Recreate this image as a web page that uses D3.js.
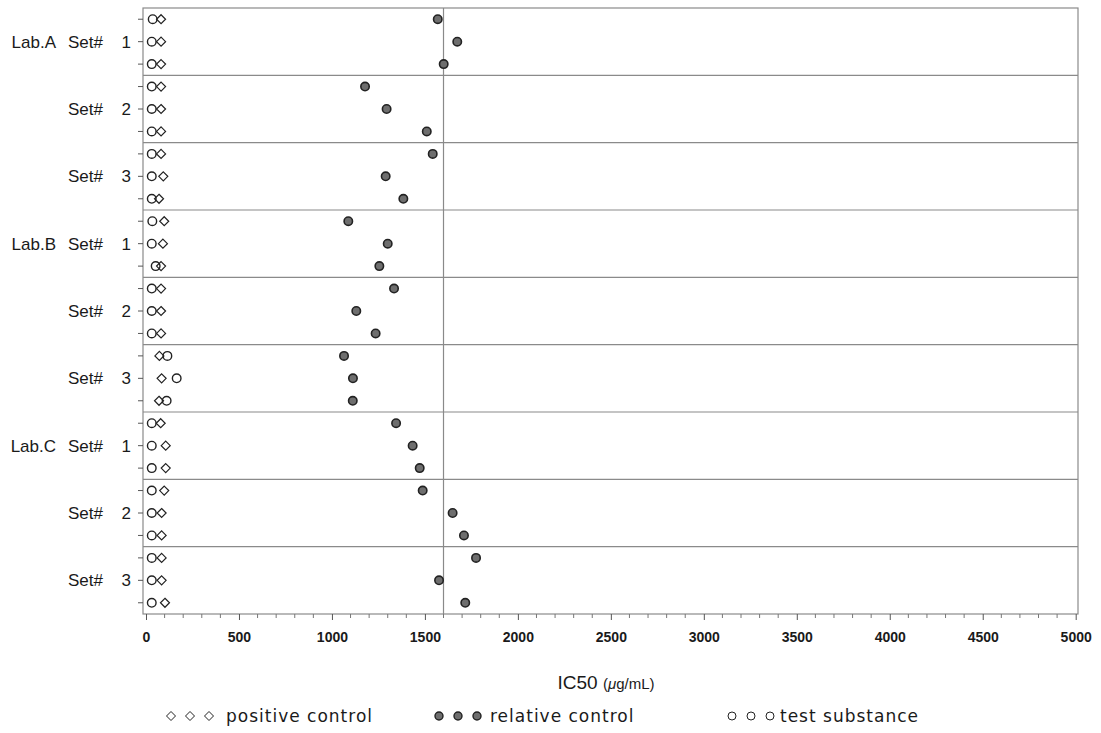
<!DOCTYPE html>
<html>
<head>
<meta charset="utf-8">
<script src="https://cdn.jsdelivr.net/npm/d3@7"></script>
<style>
  body { margin: 0; background: #fff; }
  text { font-family: "Liberation Sans", Arial, sans-serif; fill: #1a1a1a; }
</style>
</head>
<body>
<svg id="chart" width="1101" height="733"></svg>
<script>
// lab / set layout, one panel per set
const labs = ["Lab.A", "Lab.B", "Lab.C"];
const sets = ["1", "2", "3"];

// IC50 values, three replicates per panel, panels in order A1..C3
const positiveControl = [81, 81, 81, 81, 81, 81, 81, 93, 70,
                         98, 91, 81, 81, 81, 81, 72, 84, 70,
                         79, 106, 106, 98, 84, 84, 84, 84, 102];
const relativeControl = [1569, 1674, 1601, 1178, 1294, 1510, 1542, 1289, 1384,
                         1088, 1300, 1255, 1334, 1131, 1235, 1065, 1113, 1112,
                         1345, 1434, 1472, 1488, 1649, 1710, 1775, 1576, 1717];
const testSubstance = [36, 31, 31, 31, 31, 31, 31, 31, 31,
                       34, 31, 52, 31, 31, 31, 115, 165, 111,
                       31, 31, 31, 31, 31, 31, 31, 31, 31];

const refLine = 1600;
const xTicks = [0, 500, 1000, 1500, 2000, 2500, 3000, 3500, 4000, 4500, 5000];

const svg = d3.select("#chart");
const plotLeft = 143, plotRight = 1078, plotTop = 8, plotBottom = 614;

// panels and rows
const panels = [];
labs.forEach(l => sets.forEach(s => panels.push({lab: l, set: s, key: l + s})));

const x = d3.scaleLinear().domain([0, 5000]).range([146, 1075.7]);
const yPanel = d3.scaleBand().domain(panels.map(p => p.key)).range([plotTop, plotBottom]);
const yRow = d3.scaleBand().domain([0, 1, 2]).range([0, yPanel.bandwidth()]);

const rows = [];
panels.forEach((p, i) => {
    [0, 1, 2].forEach(r => {
        const k = i * 3 + r;
        rows.push({
            y: yPanel(p.key) + yRow(r) + yRow.bandwidth() / 2,
            pos: positiveControl[k],
            rel: relativeControl[k],
            test: testSubstance[k]
        });
    });
});

const grid = "#8a8a8a";

// panel separators
svg.append("g").selectAll("line")
    .data(panels.slice(1))
    .join("line")
    .attr("x1", plotLeft).attr("x2", plotRight)
    .attr("y1", d => yPanel(d.key)).attr("y2", d => yPanel(d.key))
    .attr("stroke", grid).attr("stroke-width", 1.2);

// reference line
svg.append("line")
    .attr("x1", x(refLine)).attr("x2", x(refLine))
    .attr("y1", plotTop).attr("y2", plotBottom)
    .attr("stroke", grid).attr("stroke-width", 1.2);

// frame
svg.append("rect")
    .attr("x", plotLeft).attr("y", plotTop)
    .attr("width", plotRight - plotLeft).attr("height", plotBottom - plotTop)
    .attr("fill", "none").attr("stroke", grid).attr("stroke-width", 1.2);

// y ticks
svg.append("g").selectAll("line")
    .data(rows)
    .join("line")
    .attr("x1", plotLeft - 5).attr("x2", plotLeft)
    .attr("y1", d => d.y).attr("y2", d => d.y)
    .attr("stroke", "#555");

// y labels: "Lab.X", "Set#" and the set number sit in separate columns
const labelG = svg.append("g").style("font-size", "17px");
panels.forEach(p => {
    const cy = yPanel(p.key) + yRow(1) + yRow.bandwidth() / 2;
    labelG.append("text")
        .attr("x", 68).attr("y", cy).attr("dy", "0.36em")
        .text("Set#");
    labelG.append("text")
        .attr("x", 131).attr("y", cy).attr("dy", "0.36em")
        .attr("text-anchor", "end").text(p.set);
    if (p.set === sets[0]) {
        labelG.append("text")
            .attr("x", 56).attr("y", cy).attr("dy", "0.36em")
            .attr("text-anchor", "end").text(p.lab);
    }
});

// x axis
const xAxis = d3.axisBottom(x).tickValues(xTicks).tickFormat(d3.format("d"))
    .tickSize(6).tickPadding(12);
const ax = svg.append("g").attr("transform", `translate(0,${plotBottom})`).call(xAxis);
ax.select(".domain").remove();
ax.selectAll(".tick line").attr("stroke", "#555");
ax.selectAll(".tick text")
    .style("font-family", "'Liberation Sans', Arial, sans-serif")
    .style("font-size", "14px").style("font-weight", "bold").attr("fill", "#1a1a1a");

const minor = d3.range(0, 5001, 100).filter(v => v % 500 !== 0);
svg.append("g").selectAll("line")
    .data(minor)
    .join("line")
    .attr("x1", d => x(d)).attr("x2", d => x(d))
    .attr("y1", plotBottom).attr("y2", plotBottom + 4)
    .attr("stroke", "#777");

// x title
const title = svg.append("text")
    .attr("x", 606).attr("y", 689).attr("text-anchor", "middle");
title.append("tspan").style("font-size", "19px").text("IC50 ");
title.append("tspan").style("font-size", "15px").text("(");
title.append("tspan").style("font-size", "15px").style("font-style", "italic").text("\u03bc");
title.append("tspan").style("font-size", "15px").text("g/mL)");

// markers
const diamond = (cx, cy, r) => `M${cx},${cy - r}L${cx + r},${cy}L${cx},${cy + r}L${cx - r},${cy}Z`;

const marks = svg.append("g");
marks.selectAll("circle.test")
    .data(rows)
    .join("circle")
    .attr("class", "test")
    .attr("cx", d => x(d.test)).attr("cy", d => d.y).attr("r", 4.3)
    .attr("fill", "none").attr("stroke", "#222").attr("stroke-width", 1.4);

marks.selectAll("path.pos")
    .data(rows)
    .join("path")
    .attr("class", "pos")
    .attr("d", d => diamond(x(d.pos), d.y, 4.5))
    .attr("fill", "none").attr("stroke", "#222").attr("stroke-width", 1.2);

marks.selectAll("circle.rel")
    .data(rows)
    .join("circle")
    .attr("class", "rel")
    .attr("cx", d => x(d.rel)).attr("cy", d => d.y).attr("r", 4.2)
    .attr("fill", "#6e6e6e").attr("stroke", "#222").attr("stroke-width", 1.6);

// legend
const legendY = 716;
const legend = svg.append("g");
const legendItems = [
    {name: "positive control", x0: 171, tx: 226, type: "pos"},
    {name: "relative control", x0: 439, tx: 490, type: "rel"},
    {name: "test substance", x0: 732, tx: 780, type: "test"}
];
legendItems.forEach(it => {
    [0, 1, 2].forEach(j => {
        const cx = it.x0 + j * 19;
        if (it.type === "pos") {
            legend.append("path").attr("d", diamond(cx, legendY, 4.5))
                .attr("fill", "none").attr("stroke", "#222").attr("stroke-width", 1);
        } else if (it.type === "rel") {
            legend.append("circle").attr("cx", cx).attr("cy", legendY).attr("r", 4)
                .attr("fill", "#6e6e6e").attr("stroke", "#222").attr("stroke-width", 1.4);
        } else {
            legend.append("circle").attr("cx", cx).attr("cy", legendY).attr("r", 4)
                .attr("fill", "none").attr("stroke", "#222").attr("stroke-width", 1);
        }
    });
    legend.append("text")
        .attr("x", it.tx).attr("y", legendY).attr("dy", "0.36em")
        .style("font-family", "'DejaVu Sans', sans-serif")
        .style("letter-spacing", "1px")
        .style("font-size", "17px").text(it.name);
});
</script>
</body>
</html>
